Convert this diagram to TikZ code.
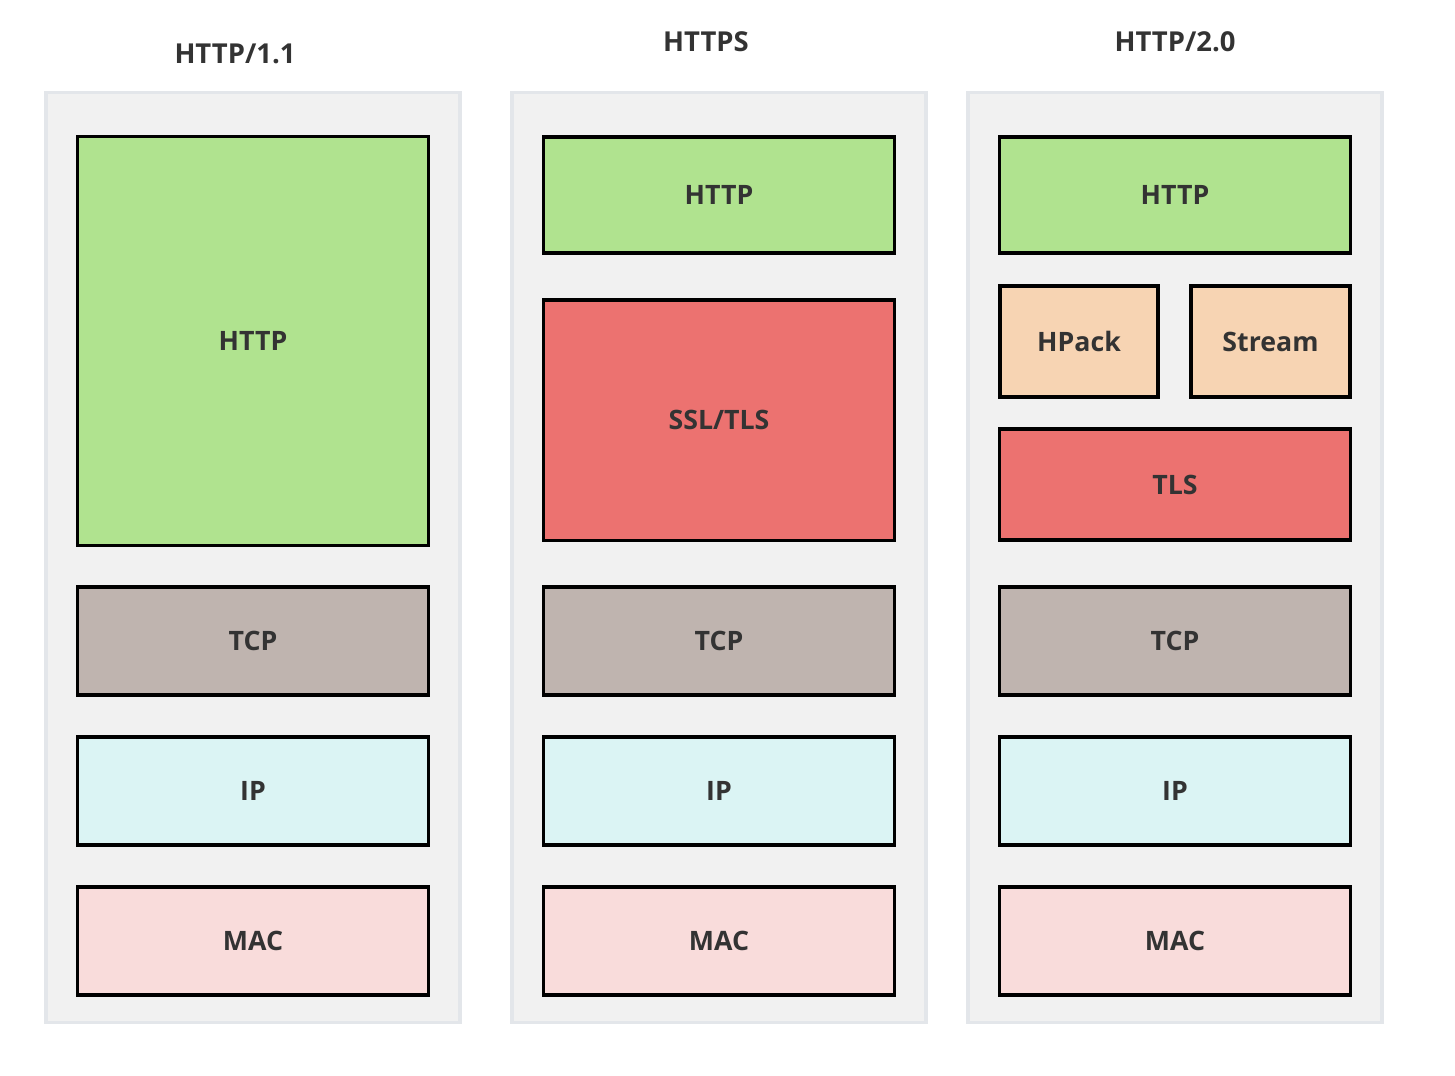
\documentclass[tikz,border=0pt]{standalone}
\usepackage{fontspec}
\setmainfont{Open Sans}
\definecolor{colbg}{HTML}{F1F1F1}
\definecolor{colline}{HTML}{E3E6EA}
\definecolor{httpgreen}{HTML}{B0E38F}
\definecolor{tlsred}{HTML}{EC7270}
\definecolor{tcptan}{HTML}{BFB4AF}
\definecolor{ipcyan}{HTML}{DBF4F4}
\definecolor{macpink}{HTML}{F9DCDB}
\definecolor{hpackorange}{HTML}{F7D4B3}
\definecolor{textgray}{HTML}{333333}
\tikzset{
  column/.style={draw=colline, line width=1pt, fill=colbg, minimum width=4.14cm, minimum height=9.29cm},
  layer/.style={draw=black, line width=0.9pt, text=textgray, font=\fontsize{7.6}{10}\selectfont\bfseries, minimum width=3.5cm, minimum height=1.08cm},
  title/.style={text=textgray, font=\fontsize{7.8}{10}\selectfont\bfseries}
}

\begin{document}
\begin{tikzpicture}[x=0.01cm, y=-0.01cm]
  \useasboundingbox (0,0) rectangle (1455,1075);
  % column backgrounds
  \node[column] (col1) at(253,557.5){};
  \node[column] (col2) at(719,557.5){};
  \node[column] (col3) at(1175,557.5){};
  \node[title] (t1) at(235,54){HTTP/1.1};
  \node[title] (t2) at(706,42){HTTPS};
  \node[title] (t3) at(1175,42){HTTP/2.0};
  % HTTP/1.1
  \node[layer, fill=httpgreen, minimum height=4.08cm] (http1) at(253,341){HTTP};
  \node[layer, fill=tcptan] (tcp1) at(253,641){TCP};
  \node[layer, fill=ipcyan] (ip1) at(253,791){IP};
  \node[layer, fill=macpink] (mac1) at(253,941){MAC};
  % HTTPS
  \node[layer, fill=httpgreen, minimum height=1.16cm] (http2) at(719,195){HTTP};
  \node[layer, fill=tlsred, minimum height=2.4cm] (ssl2) at(719,420){SSL/TLS};
  \node[layer, fill=tcptan] (tcp2) at(719,641){TCP};
  \node[layer, fill=ipcyan] (ip2) at(719,791){IP};
  \node[layer, fill=macpink] (mac2) at(719,941){MAC};
  % HTTP/2.0
  \node[layer, fill=httpgreen, minimum height=1.16cm] (http3) at(1175,195){HTTP};
  \node[layer, fill=hpackorange, minimum width=1.58cm, minimum height=1.11cm] (hpack3) at(1079,341.5){HPack};
  \node[layer, fill=hpackorange, minimum width=1.59cm, minimum height=1.11cm] (stream3) at(1270.5,341.5){Stream};
  \node[layer, fill=tlsred, minimum height=1.11cm] (tls3) at(1175,484.5){TLS};
  \node[layer, fill=tcptan] (tcp3) at(1175,641){TCP};
  \node[layer, fill=ipcyan] (ip3) at(1175,791){IP};
  \node[layer, fill=macpink] (mac3) at(1175,941){MAC};
\end{tikzpicture}
\end{document}
